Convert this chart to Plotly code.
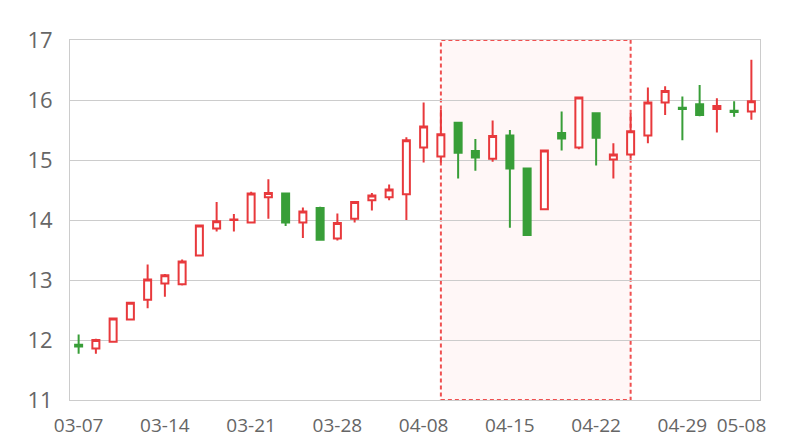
import plotly.graph_objects as go

dates = ["03-07", "03-08", "03-11", "03-12", "03-13", "03-14", "03-15", "03-18", "03-19", "03-20",
         "03-21", "03-22", "03-25", "03-26", "03-27", "03-28", "03-29", "04-01", "04-02", "04-03",
         "04-08", "04-09", "04-10", "04-11", "04-12", "04-15", "04-16", "04-17", "04-18", "04-19",
         "04-22", "04-23", "04-24", "04-25", "04-26", "04-29", "04-30", "05-06", "05-07", "05-08"]

open_ = [11.92, 11.86, 11.97, 12.34, 12.67, 12.94, 12.93, 13.41, 13.86, 14.00,
         13.96, 14.38, 14.44, 13.96, 14.20, 13.69, 14.02, 14.33, 14.38, 14.43,
         15.21, 15.06, 15.62, 15.15, 15.02, 15.41, 14.86, 14.18, 15.45, 15.21,
         15.78, 15.01, 15.09, 15.41, 15.96, 15.87, 15.93, 15.85, 15.82, 15.81]
close = [11.89, 12.00, 12.36, 12.62, 13.01, 13.08, 13.31, 13.91, 13.98, 14.01,
         14.44, 14.45, 13.96, 14.14, 13.67, 13.95, 14.30, 14.41, 14.51, 15.33,
         15.56, 15.43, 15.12, 15.04, 15.40, 14.86, 13.75, 15.16, 15.36, 16.04,
         15.37, 15.09, 15.48, 15.96, 16.15, 15.85, 15.75, 15.90, 15.80, 15.98]
high = [12.09, 12.02, 12.37, 12.63, 13.26, 13.10, 13.34, 13.92, 14.30, 14.10,
        14.47, 14.68, 14.45, 14.21, 14.22, 14.11, 14.31, 14.45, 14.59, 15.38,
        15.96, 15.84, 15.63, 15.35, 15.66, 15.50, 14.87, 15.17, 15.81, 16.05,
        15.79, 15.28, 15.78, 16.21, 16.23, 16.06, 16.25, 16.03, 15.98, 16.67]
low = [11.77, 11.77, 11.96, 12.33, 12.53, 12.72, 12.91, 13.40, 13.81, 13.81,
       13.95, 14.02, 13.90, 13.70, 13.66, 13.66, 13.96, 14.16, 14.33, 14.00,
       14.96, 14.96, 14.69, 14.82, 14.97, 13.87, 13.74, 14.17, 15.16, 15.18,
       14.91, 14.69, 15.02, 15.28, 15.75, 15.33, 15.73, 15.46, 15.72, 15.67]

tick_vals = ["03-07", "03-14", "03-21", "03-28", "04-08", "04-15", "04-22", "04-29", "05-08"]
tick_text = ["03-07", "03-14", "03-21", "03-28", "04-08", "04-15", "04-22", "04-29",
             "05-08\u00a0\u00a0\u00a0\u00a0"]
y_ticks = [11, 12, 13, 14, 15, 16, 17]

area_start = "04-09"
area_end = "04-24"

RED = "#e8393c"
GREEN = "#389e38"

fig = go.Figure()
fig.add_trace(go.Candlestick(
    x=dates, open=open_, high=high, low=low, close=close,
    increasing=dict(line=dict(color=RED, width=2), fillcolor="#ffffff"),
    decreasing=dict(line=dict(color=GREEN, width=2), fillcolor=GREEN),
    whiskerwidth=0,
    showlegend=False,
    hoverinfo="x+y",
))

fig.add_shape(type="rect", xref="x", yref="y",
              x0=area_start, x1=area_end, y0=y_ticks[0], y1=y_ticks[-1],
              fillcolor="rgba(255,90,90,0.05)",
              line=dict(color="#ef5050", width=2, dash="4px,3px"),
              layer="below")

fig.update_layout(
    width=800, height=440,
    margin=dict(l=70, r=40, t=40, b=40),
    paper_bgcolor="white", plot_bgcolor="rgba(0,0,0,0)",
    boxgap=0.42,
    font=dict(family="Open Sans", color="#666666"),
    xaxis=dict(
        type="category", categoryorder="array", categoryarray=dates,
        range=[-0.5, len(dates) - 0.5],
        rangeslider=dict(visible=False),
        tickmode="array", tickvals=tick_vals, ticktext=tick_text,
        showgrid=False, showline=True, linecolor="#cccccc", linewidth=1, mirror=True,
        ticks="", tickfont=dict(size=19, color="#666666"),
        ticklabelstandoff=8,
        automargin=False,
    ),
    yaxis=dict(
        range=[y_ticks[0], y_ticks[-1]], tickvals=y_ticks,
        showgrid=True, gridcolor="#cccccc", gridwidth=1,
        showline=True, linecolor="#cccccc", linewidth=1, mirror=True,
        zeroline=False, ticks="", tickfont=dict(size=22, color="#666666"),
        ticklabelstandoff=12,
        automargin=False,
    ),
)

fig.write_html("out.html", config={"displayModeBar": False},
               post_script="document.body.style.margin='0';document.body.style.overflow='hidden';")
